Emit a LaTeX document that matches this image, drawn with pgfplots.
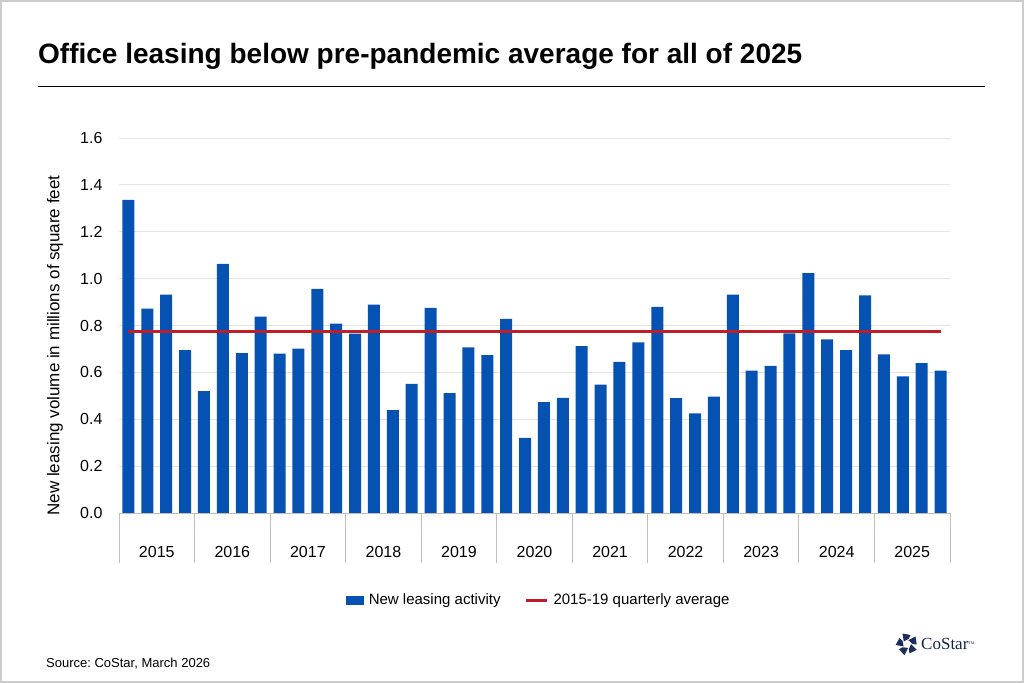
\documentclass[border=0pt]{standalone}
\usepackage{pgfplots}
\usepackage{pgfplotstable}
\pgfplotsset{compat=1.18}
\usepackage{fontspec}
\setmainfont{Liberation Sans}
\newfontfamily\logofont{Liberation Serif}

\definecolor{barblue}{RGB}{6,82,178}
\definecolor{avgred}{RGB}{190,30,40}
\definecolor{gridgray}{RGB}{228,228,228}
\definecolor{sepgray}{RGB}{190,190,190}
\definecolor{logoblue}{RGB}{28,45,95}

% new office leasing, millions of sq ft, 2015Q1 .. 2025Q4
\pgfplotstableread{
q val
1 1.336
2 0.872
3 0.932
4 0.695
5 0.520
6 1.063
7 0.682
8 0.838
9 0.680
10 0.701
11 0.956
12 0.808
13 0.765
14 0.889
15 0.439
16 0.551
17 0.875
18 0.511
19 0.707
20 0.674
21 0.828
22 0.321
23 0.473
24 0.491
25 0.712
26 0.548
27 0.645
28 0.728
29 0.879
30 0.490
31 0.425
32 0.497
33 0.932
34 0.607
35 0.628
36 0.766
37 1.023
38 0.741
39 0.695
40 0.929
41 0.677
42 0.583
43 0.640
44 0.607
}\leasing

\begin{document}
\frenchspacing
\begin{tikzpicture}
\useasboundingbox (0pt,0pt) rectangle (1024pt,683pt);
\draw[black!20, line width=2pt] (1pt,1pt) rectangle (1023pt,682pt);

% title and rule
\node[anchor=base west, inner sep=0pt, font=\bfseries\fontsize{28}{32}\selectfont]
  at (38pt,619pt) {Office leasing below pre-pandemic average for all of 2025};
\draw[line width=1.2pt] (38pt,596.5pt) -- (985pt,596.5pt);

\begin{axis}[
  at={(119pt,170pt)}, anchor=south west,
  scale only axis, width=831pt, height=375pt,
  xmin=0.5, xmax=44.5,
  ymin=0, ymax=1.6,
  ytick={0,0.2,0.4,0.6,0.8,1.0,1.2,1.4,1.6},
  /pgf/number format/fixed,
  /pgf/number format/fixed zerofill,
  /pgf/number format/precision=1,
  /pgf/number format/assume math mode=true,
  yticklabel style={font=\fontsize{16}{18}\selectfont, xshift=-13pt},
  ymajorgrids=true,
  grid style={gridgray, line width=0.8pt},
  ytick style={draw=none},
  xtick={2.5,6.5,...,42.5},
  xticklabels={2015,2016,2017,2018,2019,2020,2021,2022,2023,2024,2025},
  xtick style={draw=none},
  xticklabel style={font=\fontsize{16}{18}\selectfont, anchor=center, yshift=-39pt},
  axis line style={draw=none},
  ylabel={New leasing volume in millions of square feet},
  ylabel style={font=\fontsize{17}{19}\selectfont, at={(axis description cs:0,0.5)},
    anchor=center, yshift=64pt, xshift=-20pt},
  clip=false,
  legend columns=2,
  legend style={draw=none, at={(0.505,-0.232)}, anchor=center,
    font=\fontsize{15}{18}\selectfont,
    /tikz/every odd column/.style={column sep=3pt},
    /tikz/every even column/.style={column sep=22pt}},
]
\addplot[ybar, bar width=12pt, fill=barblue, draw=none,
  legend image code/.code={\fill[barblue] (0pt,-4.5pt) rectangle (18pt,4.5pt);}]
  table[x=q, y=val]{\leasing};
\addlegendentry{New leasing activity}
\addplot[avgred, line width=3pt, mark=none,
  legend image code/.code={\draw[avgred, line width=3pt] (0pt,0pt) -- (21pt,0pt);}]
  coordinates {(1,0.775) (44,0.775)};
\addlegendentry{2015-19 quarterly average}

\draw[sepgray, line width=1pt] (axis cs:0.5,0) -- (axis cs:44.5,0);
\pgfplotsinvokeforeach{0.5,4.5,...,44.5}{
  \draw[sepgray, line width=1pt] (axis cs:#1,0) -- ++(0pt,-50pt);
}
\end{axis}

% source
\node[anchor=base west, inner sep=0pt, font=\fontsize{13}{15}\selectfont]
  at (46pt,16pt) {Source: CoStar, March 2026};

% logo
\begin{scope}[shift={(907pt,39pt)}, x=1pt, y=1pt]
  \foreach \a in {90,162,234,306,378}{
    \fill[logoblue, rotate=\a] (2.5,3.2) -- (10.5,4.5) -- (9.0,-3.5) -- (5.2,-1.6) -- cycle;
  }
\end{scope}
\node[anchor=west, inner sep=0pt, font=\logofont\fontsize{17}{19}\selectfont, text=logoblue!80!black]
  at (921pt,39pt) {CoStar\raisebox{5pt}{\fontsize{4}{4}\selectfont TM}};
\end{tikzpicture}
\end{document}
